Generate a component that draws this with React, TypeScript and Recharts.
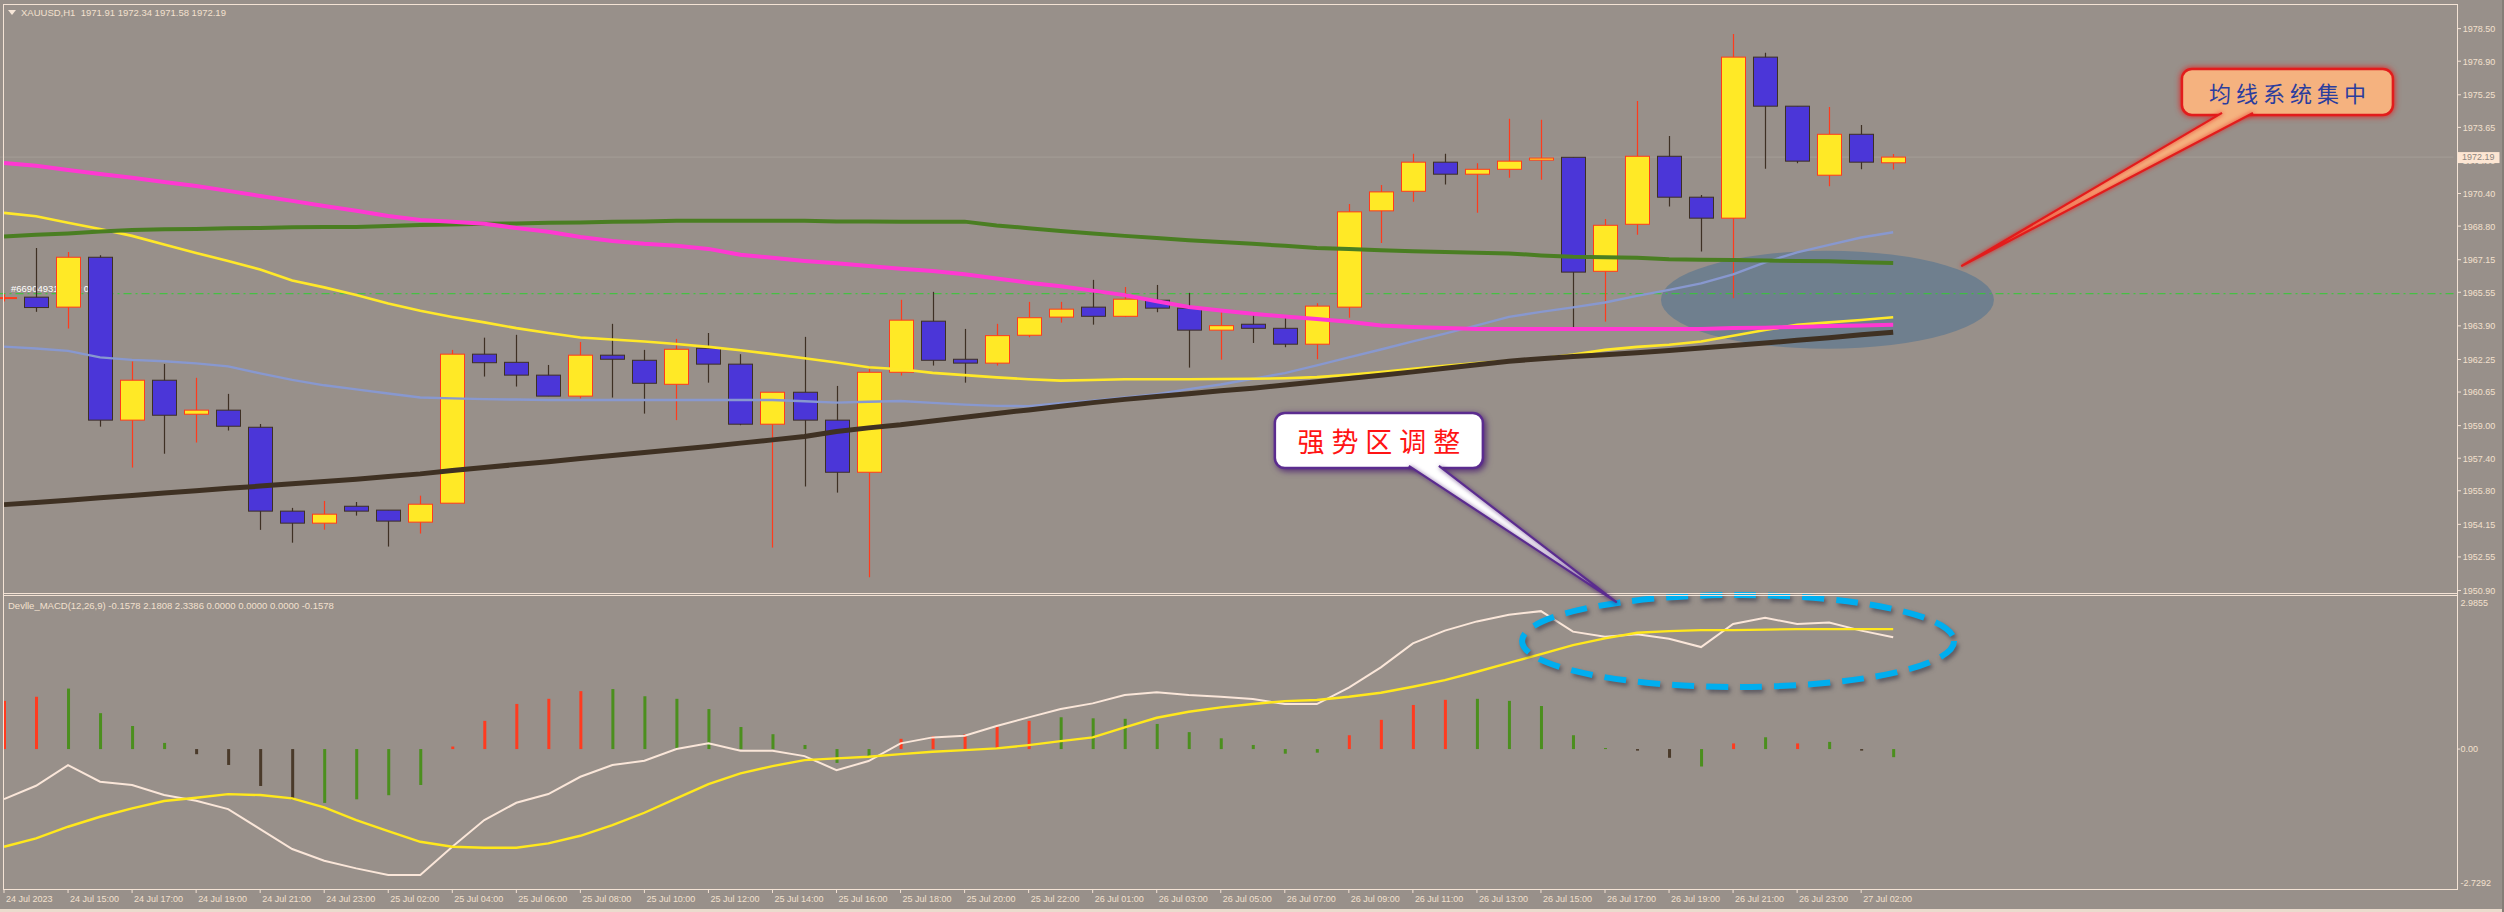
import {
  ComposedChart, Bar, Line, XAxis, YAxis, ReferenceLine, ReferenceDot,
} from "recharts";

// ---------- chart data ----------

// x axis labels, one every 2 bars (bar 0 = 24 Jul 13:00)
const timeLabels = [
  "24 Jul 2023", "24 Jul 15:00", "24 Jul 17:00", "24 Jul 19:00", "24 Jul 21:00", "24 Jul 23:00",
  "25 Jul 02:00", "25 Jul 04:00", "25 Jul 06:00", "25 Jul 08:00", "25 Jul 10:00", "25 Jul 12:00",
  "25 Jul 14:00", "25 Jul 16:00", "25 Jul 18:00", "25 Jul 20:00", "25 Jul 22:00", "26 Jul 01:00",
  "26 Jul 03:00", "26 Jul 05:00", "26 Jul 07:00", "26 Jul 09:00", "26 Jul 11:00", "26 Jul 13:00",
  "26 Jul 15:00", "26 Jul 17:00", "26 Jul 19:00", "26 Jul 21:00", "26 Jul 23:00", "27 Jul 02:00",
];

const opens = [
  1965.25, 1965.31, 1964.82, 1967.27, 1959.27, 1961.23, 1959.56, 1959.76, 1958.92, 1954.80,
  1954.21, 1955.04, 1954.85, 1954.26, 1955.19, 1962.51, 1962.11, 1961.48, 1960.45, 1962.46,
  1962.21, 1961.03, 1962.80, 1962.02, 1959.07, 1960.64, 1959.27, 1956.71, 1961.62, 1964.13,
  1962.26, 1962.07, 1963.44, 1964.33, 1964.82, 1964.37, 1965.16, 1964.77, 1963.69, 1963.98,
  1963.78, 1963.00, 1964.82, 1969.55, 1970.51, 1971.94, 1971.35, 1971.59, 1972.04, 1972.18,
  1966.58, 1968.89, 1972.23, 1970.22, 1969.19, 1977.10, 1974.69, 1971.30, 1973.31, 1971.91,
];
const highs = [
  1965.45, 1967.73, 1967.53, 1967.37, 1962.15, 1962.03, 1961.35, 1960.56, 1959.08, 1954.96,
  1955.30, 1955.25, 1954.85, 1955.56, 1962.72, 1963.32, 1963.46, 1961.98, 1963.11, 1964.00,
  1962.72, 1963.26, 1963.55, 1962.51, 1960.64, 1963.36, 1960.95, 1961.79, 1965.18, 1965.57,
  1963.75, 1964.00, 1965.08, 1965.08, 1966.16, 1965.81, 1965.91, 1965.52, 1964.63, 1964.54,
  1964.33, 1965.01, 1969.89, 1970.82, 1972.35, 1972.35, 1971.89, 1974.07, 1974.02, 1972.18,
  1969.15, 1974.95, 1973.23, 1970.33, 1978.24, 1977.31, 1974.69, 1974.65, 1973.76, 1972.34,
];
const lows = [
  1965.10, 1964.59, 1963.77, 1958.95, 1956.94, 1957.62, 1958.17, 1958.76, 1953.88, 1953.25,
  1953.89, 1954.58, 1953.06, 1953.70, 1955.19, 1961.41, 1960.92, 1960.45, 1960.33, 1960.38,
  1959.59, 1959.27, 1961.11, 1959.02, 1953.01, 1956.01, 1955.71, 1951.55, 1961.46, 1961.95,
  1961.11, 1961.95, 1963.34, 1964.06, 1963.96, 1964.33, 1964.57, 1961.85, 1962.24, 1963.06,
  1962.85, 1962.26, 1964.30, 1967.97, 1970.00, 1970.84, 1969.46, 1971.18, 1971.08, 1963.81,
  1964.11, 1968.38, 1969.76, 1967.55, 1965.26, 1971.62, 1971.89, 1970.76, 1971.59, 1971.58,
];
const closes = [
  1965.29, 1964.80, 1967.27, 1959.27, 1961.23, 1959.51, 1959.76, 1958.97, 1954.80, 1954.21,
  1954.65, 1954.80, 1954.31, 1955.14, 1962.51, 1962.09, 1961.48, 1960.45, 1962.46, 1962.26,
  1961.08, 1962.75, 1962.02, 1959.07, 1960.64, 1959.27, 1956.71, 1961.62, 1964.18, 1962.21,
  1962.07, 1963.42, 1964.30, 1964.72, 1964.37, 1965.21, 1964.77, 1963.69, 1963.91, 1963.78,
  1963.00, 1964.87, 1969.50, 1970.48, 1971.94, 1971.35, 1971.59, 1971.99, 1972.14, 1966.54,
  1968.84, 1972.23, 1970.22, 1969.19, 1977.10, 1974.69, 1971.99, 1973.31, 1971.94, 1972.19,
];

// moving averages on the price window
const maMagenta = [
  1971.90, 1971.76, 1971.56, 1971.36, 1971.17, 1970.97, 1970.77, 1970.53, 1970.28, 1970.04,
  1969.79, 1969.55, 1969.30, 1969.10, 1969.01, 1968.91, 1968.71, 1968.52, 1968.27, 1968.07,
  1967.93, 1967.83, 1967.68, 1967.39, 1967.24, 1967.09, 1966.97, 1966.84, 1966.71, 1966.60,
  1966.43, 1966.23, 1966.02, 1965.85, 1965.63, 1965.41, 1965.11, 1964.83, 1964.66, 1964.49,
  1964.36, 1964.24, 1964.10, 1963.92, 1963.85, 1963.80, 1963.75, 1963.75, 1963.75, 1963.75,
  1963.75, 1963.75, 1963.75, 1963.75, 1963.80, 1963.81, 1963.85, 1963.89, 1963.92, 1963.95,
];
const maGreen = [
  1968.29, 1968.37, 1968.44, 1968.54, 1968.61, 1968.64, 1968.66, 1968.69, 1968.71, 1968.74,
  1968.75, 1968.76, 1968.81, 1968.86, 1968.88, 1968.91, 1968.93, 1968.96, 1968.98, 1969.01,
  1969.03, 1969.06, 1969.06, 1969.06, 1969.06, 1969.06, 1969.03, 1969.03, 1969.02, 1969.02,
  1969.02, 1968.83, 1968.70, 1968.56, 1968.44, 1968.32, 1968.22, 1968.11, 1968.02, 1967.93,
  1967.83, 1967.73, 1967.67, 1967.61, 1967.57, 1967.53, 1967.49, 1967.46, 1967.36, 1967.29,
  1967.27, 1967.25, 1967.17, 1967.15, 1967.14, 1967.11, 1967.09, 1967.07, 1967.03, 1966.99,
];
const maYellow = [
  1969.45, 1969.28, 1968.96, 1968.66, 1968.32, 1967.90, 1967.48, 1967.09, 1966.67, 1966.13,
  1965.79, 1965.42, 1965.00, 1964.64, 1964.34, 1964.07, 1963.79, 1963.55, 1963.33, 1963.23,
  1963.13, 1963.01, 1962.87, 1962.70, 1962.51, 1962.31, 1962.10, 1961.87, 1961.77, 1961.59,
  1961.48, 1961.37, 1961.28, 1961.21, 1961.24, 1961.28, 1961.28, 1961.28, 1961.29, 1961.30,
  1961.33, 1961.38, 1961.50, 1961.63, 1961.79, 1961.94, 1962.07, 1962.19, 1962.30, 1962.49,
  1962.72, 1962.87, 1962.97, 1963.13, 1963.41, 1963.70, 1963.95, 1964.07, 1964.19, 1964.32,
];
const maBlue = [
  1962.88, 1962.79, 1962.67, 1962.35, 1962.23, 1962.16, 1962.06, 1961.91, 1961.57, 1961.25,
  1960.98, 1960.78, 1960.58, 1960.38, 1960.34, 1960.30, 1960.28, 1960.26, 1960.26, 1960.26,
  1960.26, 1960.26, 1960.26, 1960.26, 1960.26, 1960.20, 1960.13, 1960.17, 1960.21, 1960.12,
  1960.03, 1959.97, 1959.96, 1960.10, 1960.22, 1960.38, 1960.55, 1960.79, 1961.02, 1961.30,
  1961.58, 1961.96, 1962.35, 1962.74, 1963.14, 1963.52, 1963.92, 1964.34, 1964.59, 1964.81,
  1965.05, 1965.37, 1965.67, 1965.99, 1966.43, 1967.02, 1967.51, 1967.88, 1968.24, 1968.50,
];
const maBrown = [
  1955.12, 1955.23, 1955.33, 1955.46, 1955.57, 1955.69, 1955.80, 1955.92, 1956.03, 1956.14,
  1956.25, 1956.37, 1956.50, 1956.63, 1956.80, 1956.94, 1957.09, 1957.23, 1957.38, 1957.53,
  1957.68, 1957.83, 1957.98, 1958.14, 1958.30, 1958.47, 1958.71, 1958.89, 1959.04, 1959.23,
  1959.41, 1959.60, 1959.77, 1959.95, 1960.13, 1960.29, 1960.43, 1960.57, 1960.71, 1960.84,
  1961.00, 1961.16, 1961.31, 1961.47, 1961.64, 1961.82, 1961.99, 1962.16, 1962.29, 1962.40,
  1962.48, 1962.58, 1962.69, 1962.81, 1962.94, 1963.06, 1963.19, 1963.32, 1963.46, 1963.59,
];

// Devlle_MACD(12,26,9) window
const macdLine = [
  -0.975, -0.716, -0.312, -0.637, -0.702, -0.897, -1.008, -1.170, -1.560, -1.950,
  -2.178, -2.327, -2.458, -2.458, -1.905, -1.385, -1.047, -0.878, -0.540, -0.312,
  -0.228, 0.000, 0.111, -0.033, -0.033, -0.137, -0.410, -0.234, 0.111, 0.228,
  0.260, 0.450, 0.618, 0.780, 0.891, 1.053, 1.106, 1.053, 1.020, 0.975,
  0.878, 0.878, 1.200, 1.593, 2.062, 2.310, 2.490, 2.620, 2.690, 2.290,
  2.190, 2.240, 2.150, 1.990, 2.440, 2.560, 2.440, 2.470, 2.310, 2.1808,
];
const signalLine = [
  -1.905, -1.742, -1.515, -1.320, -1.157, -1.014, -0.950, -0.878, -0.897, -0.962,
  -1.137, -1.385, -1.599, -1.808, -1.905, -1.925, -1.925, -1.839, -1.691, -1.482,
  -1.242, -0.962, -0.683, -0.474, -0.332, -0.215, -0.182, -0.150, -0.098, -0.053,
  -0.020, 0.013, 0.078, 0.156, 0.228, 0.423, 0.611, 0.728, 0.813, 0.878,
  0.936, 0.956, 1.020, 1.098, 1.215, 1.346, 1.508, 1.683, 1.853, 2.028,
  2.159, 2.268, 2.300, 2.320, 2.320, 2.330, 2.340, 2.340, 2.340, 2.3386,
];
const histValues = [
  0.94, 1.02, 1.18, 0.70, 0.45, 0.12, -0.10, -0.31, -0.72, -0.98,
  -1.05, -0.98, -0.90, -0.70, 0.05, 0.55, 0.88, 0.98, 1.13, 1.17,
  1.03, 0.98, 0.78, 0.43, 0.29, 0.08, -0.27, -0.15, 0.20, 0.25,
  0.29, 0.44, 0.55, 0.62, 0.60, 0.59, 0.49, 0.33, 0.21, 0.08,
  -0.09, -0.07, 0.27, 0.57, 0.86, 0.96, 0.98, 0.94, 0.84, 0.27,
  0.02, -0.03, -0.17, -0.34, 0.11, 0.23, 0.11, 0.14, -0.03, -0.1578,
];
// r = red, g = green, d = dark
const histTone = [
  "r", "r", "g", "g", "g", "g", "d", "d", "d", "d",
  "g", "g", "g", "g", "r", "r", "r", "r", "r", "g",
  "g", "g", "g", "g", "g", "g", "g", "g", "r", "r",
  "r", "r", "r", "g", "g", "g", "g", "g", "g", "g",
  "g", "g", "r", "r", "r", "r", "g", "g", "g", "g",
  "g", "d", "d", "g", "r", "g", "r", "g", "d", "g",
];

const priceTicks = [
  1978.50, 1976.90, 1975.25, 1973.65, 1972.00, 1970.40, 1968.80, 1967.15, 1965.55,
  1963.90, 1962.25, 1960.65, 1959.00, 1957.40, 1955.80, 1954.15, 1952.55, 1950.90,
];
const LAST_PRICE = 1972.19;
const ORDER_PRICE = 1965.48;

// ---------- layout ----------
const W = 2504, H = 912;
const BAR_STEP = 32.02;
const FIRST_BAR_X = 4;
const SLOTS = 77; // 60 bars + chart shift on the right
const CHART_LEFT = FIRST_BAR_X - BAR_STEP / 2;
const PLOT_W = SLOTS * BAR_STEP;
const AXIS_W = 50;
const CHART_W = PLOT_W + AXIS_W;
const AXIS_X = 2457;
const AXIS_GAP = AXIS_X - (CHART_LEFT + PLOT_W);

const PRICE_TOP = 5, PRICE_BOTTOM = 594;
const MACD_TOP = 596, MACD_BOTTOM = 889;
const PRICE_MIN = 1950.73, PRICE_MAX = 1979.66;
const MACD_MIN = -2.7292, MACD_MAX = 2.9855;

const BG = "#98908a";
const FRAME = "#f4e3d5";
const LABEL = "#f3e0ce";
const NUM_FONT = '"Liberation Sans", Arial, sans-serif';
const CJK_FONT = '"Noto Sans CJK SC", sans-serif';

const BULL_FILL = "#ffe926", BULL_EDGE = "#ff3b1c";
const BEAR_FILL = "#4b36d8", BEAR_EDGE = "#3e3024";
const TONE: Record<string, string> = { r: "#ff3b1f", g: "#4b8f1e", d: "#4a3a2a" };

const rows = Array.from({ length: SLOTS }, (_, i) => ({
  i,
  o: opens[i], h: highs[i], l: lows[i], c: closes[i],
  maMagenta: maMagenta[i], maGreen: maGreen[i], maYellow: maYellow[i],
  maBlue: maBlue[i], maBrown: maBrown[i],
  macd: macdLine[i], sig: signalLine[i], hist: histValues[i], tone: histTone[i],
}));

// ---------- shapes ----------
const Candle = (p: any) => {
  const { x, y, width, height, payload } = p;
  if (!payload || payload.o == null) return <g />;
  const { o, h, l, c } = payload;
  const top = Math.min(y, y + height);
  const span = Math.abs(height);
  const k = h > l ? span / (h - l) : 0;
  const yO = top + (h - o) * k;
  const yC = top + (h - c) * k;
  const bull = c >= o;
  const cx = Math.round(x + width / 2) + 0.5;
  const edge = bull ? BULL_EDGE : BEAR_EDGE;
  return (
    <g>
      <line x1={cx} x2={cx} y1={top} y2={top + span} stroke={edge} strokeWidth={1.2} />
      <rect x={cx - 12} y={Math.min(yO, yC)} width={24} height={Math.max(1, Math.abs(yO - yC))}
        fill={bull ? BULL_FILL : BEAR_FILL} stroke={edge} strokeWidth={1} />
    </g>
  );
};

const HistBar = (p: any) => {
  const { x, y, width, height, payload } = p;
  if (!payload || payload.hist == null) return <g />;
  const top = Math.min(y, y + height);
  return (
    <rect x={x + width / 2 - 1.5} y={top} width={3} height={Math.max(1, Math.abs(height))}
      fill={TONE[payload.tone]} />
  );
};

const PriceTick = (p: any) => {
  const v = p.payload.value;
  const x = p.x + AXIS_GAP;
  const y = p.y;
  if (v === LAST_PRICE) {
    return (
      <g>
        <rect x={x + 0.5} y={y - 5} width={42} height={11} fill="#fde6d3" />
        <text x={x + 5} y={y} dy={3.4} fontSize={9} fontFamily={NUM_FONT} fill="#8f8780">
          {v.toFixed(2)}
        </text>
      </g>
    );
  }
  return (
    <g>
      <line x1={x} x2={x + 4} y1={y} y2={y} stroke={FRAME} />
      <text x={x + 5.7} y={y} dy={3.4} fontSize={9} fontFamily={NUM_FONT} fill={LABEL}>
        {v.toFixed(2)}
      </text>
    </g>
  );
};

const MacdTick = (p: any) => {
  const v = p.payload.value;
  const x = p.x + AXIS_GAP;
  const shift = v === MACD_MAX ? 7 : v === MACD_MIN ? -6 : 0;
  const txt = v === 0 ? "0.00" : v.toFixed(4);
  return (
    <g>
      {v === 0 && <line x1={x} x2={x + 3} y1={p.y} y2={p.y} stroke={FRAME} />}
      <text x={x + 3.5} y={p.y + shift} dy={3.4} fontSize={9} fontFamily={NUM_FONT} fill={LABEL}>
        {txt}
      </text>
    </g>
  );
};

const TimeTick = (p: any) => {
  const i = p.payload.value;
  if (i % 2 !== 0 || i / 2 >= timeLabels.length) return <g />;
  return (
    <g>
      <line x1={p.x} x2={p.x} y1={p.y} y2={p.y + 4} stroke={FRAME} />
      <text x={p.x + 2} y={p.y + 13} fontSize={9} fontFamily={NUM_FONT} fill={LABEL}>
        {timeLabels[i / 2]}
      </text>
    </g>
  );
};

const Callout = ({ cx, cy, dx, w, h, fill, stroke, glow, text, color, size, spacing }: any) => (
  <g>
    <rect x={cx + dx - w / 2} y={cy - h / 2} width={w} height={h} rx={10}
      fill={fill} stroke={stroke} strokeWidth={2.5} style={{ filter: `drop-shadow(${glow})` }} />
    <text x={cx + dx + spacing / 2} y={cy} textAnchor="middle" dominantBaseline="central"
      fontFamily={CJK_FONT} fontSize={size} letterSpacing={spacing} fill={color}>
      {text}
    </text>
  </g>
);

const Wedge = ({ x1, y1, x2, y2, left, right, tipDx, fill, stroke, glow }: any) => {
  const bl = `${x1 + left},${y1}`;
  const br = `${x1 + right},${y1}`;
  const tip = `${x2 + tipDx},${y2}`;
  return (
    <g>
      <polygon points={`${bl} ${tip} ${br}`} fill={fill} />
      <polyline points={`${bl} ${tip} ${br}`} fill="none" stroke={stroke} strokeWidth={2.2}
        strokeLinejoin="round" style={{ filter: `drop-shadow(${glow})` }} />
    </g>
  );
};

// ---------- layers: every layer shares the same plot geometry ----------
function PriceLayer({ z, tick, children }: any) {
  return (
    <div style={{ position: "absolute", left: CHART_LEFT, top: 0, zIndex: z }}>
      <ComposedChart width={CHART_W} height={PRICE_BOTTOM} data={rows}
        margin={{ top: PRICE_TOP, right: 0, bottom: 0, left: 0 }}>
        <XAxis dataKey="i" type="category" scale="band" hide />
        <YAxis orientation="right" type="number" width={AXIS_W}
          domain={[PRICE_MIN, PRICE_MAX]} allowDataOverflow
          ticks={[...priceTicks, LAST_PRICE]} interval={0}
          axisLine={false} tickLine={false} tickSize={0} tickMargin={0}
          tick={tick ?? false} />
        {children}
      </ComposedChart>
    </div>
  );
}

function MacdLayer({ z, withAxes, children }: any) {
  return (
    <div style={{ position: "absolute", left: CHART_LEFT, top: MACD_TOP, zIndex: z }}>
      <ComposedChart width={CHART_W} height={MACD_BOTTOM - MACD_TOP + 20} data={rows}
        margin={{ top: 0, right: 0, bottom: 0, left: 0 }}>
        <XAxis dataKey="i" type="category" scale="band" height={20} interval={1}
          axisLine={false} tickLine={false} tickSize={0} tickMargin={0}
          tick={withAxes ? (p: any) => <TimeTick {...p} /> : false} />
        <YAxis orientation="right" type="number" width={AXIS_W}
          domain={[MACD_MIN, MACD_MAX]} allowDataOverflow
          ticks={[MACD_MAX, 0, MACD_MIN]} interval={0}
          axisLine={false} tickLine={false} tickSize={0} tickMargin={0}
          tick={withAxes ? (p: any) => <MacdTick {...p} /> : false} />
        {children}
      </ComposedChart>
    </div>
  );
}

const hLine = (left: number, top: number, width: number, color = FRAME, height = 1) => (
  <div style={{ position: "absolute", left, top, width, height, background: color }} />
);
const vLine = (left: number, top: number, height: number, color = FRAME) => (
  <div style={{ position: "absolute", left, top, width: 1, height, background: color }} />
);

export default function App() {
  return (
    <div style={{
      position: "fixed", left: 0, top: 0, width: W, height: H, background: BG,
      overflow: "hidden", fontFamily: NUM_FONT,
    }}>
      <style>{`.recharts-surface{overflow:visible}`}</style>

      {/* MACD window */}
      <MacdLayer z={1} withAxes>
        <Bar dataKey="hist" barSize={3} shape={(p: any) => <HistBar {...p} />} isAnimationActive={false} />
        <Line dataKey="macd" type="linear" stroke="#fae6d9" strokeWidth={2} dot={false} isAnimationActive={false} />
        <Line dataKey="sig" type="linear" stroke="#ffe81c" strokeWidth={2.4} dot={false} isAnimationActive={false} />
      </MacdLayer>
      <MacdLayer z={2}>
        <ReferenceDot x={54} y={2.108} r={1} ifOverflow="visible"
          shape={(p: any) => (
            <ellipse cx={p.cx + 5} cy={p.cy} rx={216} ry={46} fill="none" stroke="#00aeef"
              strokeWidth={6} strokeDasharray="22 12"
              style={{ filter: "drop-shadow(2px 3px 2px rgba(40,40,60,0.55))" }} />
          )} />
      </MacdLayer>

      {/* price window: background ellipse */}
      <PriceLayer z={3}>
        <ReferenceDot x={57} y={1965.18} r={1}
          shape={(p: any) => (
            <ellipse cx={p.cx - 1.7} cy={p.cy} rx={166.5} ry={49} fill="#6f7f8e" />
          )} />
      </PriceLayer>
      {/* bid line + order line */}
      <PriceLayer z={4}>
        <ReferenceLine y={LAST_PRICE} stroke="#a59e98" strokeWidth={1} />
        <ReferenceLine y={ORDER_PRICE} stroke="#33cc33" strokeWidth={1} strokeDasharray="8 4 2 4" />
      </PriceLayer>
      <div style={{
        position: "absolute", left: 11, top: 283, zIndex: 4, fontSize: 9.5, color: "#ffffff",
        whiteSpace: "nowrap",
      }}>
        #669049311 buy 0.10
      </div>

      {/* candles + moving averages + price axis */}
      <PriceLayer z={5} tick={(p: any) => <PriceTick {...p} />}>
        <Bar dataKey={(d: any) => (d.o == null ? null : [d.l, d.h])} barSize={24}
          shape={(p: any) => <Candle {...p} />} isAnimationActive={false} />
        <Line dataKey="maBlue" type="linear" stroke="#8898cf" strokeWidth={2.4} dot={false} isAnimationActive={false} />
        <Line dataKey="maYellow" type="linear" stroke="#ffe829" strokeWidth={2.6} dot={false} isAnimationActive={false} />
        <Line dataKey="maGreen" type="linear" stroke="#4a7e22" strokeWidth={4} dot={false} isAnimationActive={false} />
        <Line dataKey="maMagenta" type="linear" stroke="#ff38d2" strokeWidth={4} dot={false} isAnimationActive={false} />
        <Line dataKey="maBrown" type="linear" stroke="#3f3123" strokeWidth={5} dot={false} isAnimationActive={false} />
      </PriceLayer>

      {/* window frame */}
      <div style={{ position: "absolute", inset: 0, zIndex: 6, pointerEvents: "none" }}>
        {hLine(3, 4, AXIS_X - 3)}
        {vLine(3, 4, MACD_BOTTOM - 4)}
        {vLine(AXIS_X, 4, MACD_BOTTOM - 3)}
        {hLine(3, 593, AXIS_X - 3)}
        {hLine(3, 595, AXIS_X - 3)}
        {hLine(3, MACD_BOTTOM, AXIS_X - 2)}
        {hLine(0, 909, W, "#eadbcd", 3)}
        {vLine(2502, 0, H, "#857d77")}
        {vLine(2503, 0, H, "#857d77")}
      </div>

      {/* callout boxes */}
      <PriceLayer z={7}>
        <ReferenceDot x={71} y={1975.39} r={1}
          shape={(p: any) => (
            <Callout cx={p.cx} cy={p.cy} dx={10} w={211} h={46} fill="#f5b27f" stroke="#e21c1c"
              glow="0 0 3px rgba(235,20,20,0.95)" text="均线系统集中" color="#2b3d9e" size={22} spacing={5} />
          )} />
        <ReferenceDot x={43} y={1958.27} r={1}
          shape={(p: any) => (
            <Callout cx={p.cx} cy={p.cy} dx={-2} w={208} h={55} fill="#ffffff" stroke="#5b2c8f"
              glow="2px 2px 3px rgba(70,25,110,0.85)" text="强势区调整" color="#ff1414" size={27} spacing={7} />
          )} />
      </PriceLayer>
      {/* callout pointers */}
      <PriceLayer z={8}>
        <ReferenceLine segment={[{ x: 70, y: 1974.36 }, { x: 61, y: 1966.85 }]} ifOverflow="visible"
          shape={(p: any) => (
            <Wedge {...p} left={-23.4} right={7.6} tipDx={4.8} fill="#f5b27f" stroke="#e21c1c"
              glow="0 0 2px rgba(235,20,20,0.9)" />
          )} />
        <ReferenceLine segment={[{ x: 44, y: 1957.02 }, { x: 50, y: 1950.34 }]} ifOverflow="visible"
          shape={(p: any) => (
            <Wedge {...p} left={-4} right={26} tipDx={11} fill="#ffffff" stroke="#5b2c8f"
              glow="1px 1px 2px rgba(70,25,110,0.85)" />
          )} />
      </PriceLayer>

      {/* window captions */}
      <div style={{ position: "absolute", left: 8, top: 7, zIndex: 9, display: "flex", alignItems: "center", gap: 5 }}>
        <svg width={8} height={6}><polygon points="0,0 8,0 4,5" fill="#f6e6d8" /></svg>
        <span style={{ fontSize: 9.5, color: LABEL, whiteSpace: "pre" }}>
          XAUUSD,H1  1971.91 1972.34 1971.58 1972.19
        </span>
      </div>
      <div style={{
        position: "absolute", left: 8, top: 600, zIndex: 9, fontSize: 9.5, color: LABEL,
        whiteSpace: "pre",
      }}>
        Devlle_MACD(12,26,9) -0.1578 2.1808 2.3386 0.0000 0.0000 0.0000 -0.1578
      </div>
    </div>
  );
}
